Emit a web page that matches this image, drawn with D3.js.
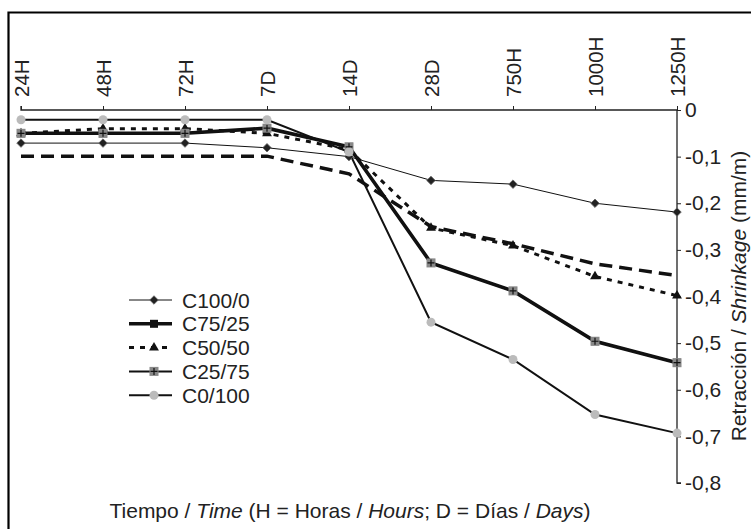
<!DOCTYPE html>
<html><head><meta charset="utf-8">
<script src="https://cdn.jsdelivr.net/npm/d3@7"></script>
<style>body{margin:0;background:#fff}svg{display:block;font-family:"Liberation Sans",Arial,sans-serif}</style>
</head><body><svg id="c" width="751" height="529"></svg>
<script>
const categories = ["24H","48H","72H","7D","14D","28D","750H","1000H","1250H"];
const yTicks = [0,-0.1,-0.2,-0.3,-0.4,-0.5,-0.6,-0.7,-0.8];
const c100_0  = [-0.071,-0.071,-0.071,-0.081,-0.100,-0.151,-0.159,-0.200,-0.219];
const c75_25  = [-0.050,-0.050,-0.050,-0.039,-0.079,-0.328,-0.388,-0.496,-0.542];
const c50_50  = [-0.050,-0.040,-0.040,-0.050,-0.085,-0.253,-0.291,-0.357,-0.398];
const c25_75  = [-0.050,-0.050,-0.050,-0.039,-0.079,-0.328,-0.388,-0.496,-0.542];
const c0_100  = [-0.021,-0.021,-0.021,-0.021,-0.090,-0.455,-0.535,-0.653,-0.693];
const extraDashed = [-0.099,-0.099,-0.099,-0.099,-0.137,-0.250,-0.287,-0.330,-0.355];
const legendNames = ["C100/0","C75/25","C50/50","C25/75","C0/100"];

const svg = d3.select("#c");
const x = d3.scalePoint().domain(categories).range([21,677]);
const y = d3.scaleLinear().domain([0,-0.8]).range([110,483]);
const FS = 21;

// outer frame
svg.append("path").attr("d","M8.5,540V12.5H760").attr("fill","none").attr("stroke","#000").attr("stroke-width",2.2);

// top axis
const gx = svg.append("g").attr("transform","translate(0,110)")
  .call(d3.axisTop(x).tickSize(4).tickPadding(6));
gx.select(".domain").attr("stroke","#222").attr("stroke-width",1.3).attr("d","M21,-4V0H677");
gx.selectAll(".tick line").attr("stroke","#222");
gx.selectAll("text").attr("font-size",20.5).attr("fill","#222")
  .attr("transform","rotate(-90)").attr("text-anchor","start")
  .attr("x",13).attr("y",0).attr("dy","0.36em");

// right axis
const gy = svg.append("g").attr("transform","translate(677,0)")
  .call(d3.axisRight(y).tickValues(yTicks).tickSize(4).tickPadding(4)
    .tickFormat(d => d===0 ? "0" : d3.format(".1f")(d).replace("−","-").replace(".",",")));
gy.select(".domain").attr("stroke","#222").attr("stroke-width",1.3).attr("d","M0,110V483H4");
gy.selectAll(".tick line").attr("stroke","#222");
gy.selectAll("text").attr("font-size",FS).attr("fill","#222");

// right axis label
const yl = svg.append("text").attr("transform","translate(746,296) rotate(-90)")
  .attr("text-anchor","middle").attr("font-size",FS).attr("fill","#222");
yl.append("tspan").text("Retracción / ");
yl.append("tspan").attr("font-style","italic").text("Shrinkage");
yl.append("tspan").text(" (mm/m)");

// bottom title
const xt = svg.append("text").attr("x",350).attr("y",518).attr("text-anchor","middle")
  .attr("font-size",FS).attr("fill","#222");
xt.append("tspan").text("Tiempo / ");
xt.append("tspan").attr("font-style","italic").text("Time");
xt.append("tspan").text(" (H = Horas / ");
xt.append("tspan").attr("font-style","italic").text("Hours");
xt.append("tspan").text("; D = Días / ");
xt.append("tspan").attr("font-style","italic").text("Days");
xt.append("tspan").text(")");

const line = d3.line().x((d,i)=>x(categories[i])).y(d=>y(d));

const series = [
  {name:null, data:extraDashed, w:3.5, dash:"13,7", marker:null},
  {name:"C100/0", data:c100_0, w:1, dash:null, marker:"diamond"},
  {name:"C50/50", data:c50_50, w:3, dash:"5,6", marker:"triangle"},
  {name:"C75/25", data:c75_25, w:3.6, dash:null, marker:"bsquare"},
  {name:"C25/75", data:c25_75, w:2, dash:null, marker:"gsquare"},
  {name:"C0/100", data:c0_100, w:2, dash:null, marker:"circle"}
];

function drawMarker(g, type, cx, cy){
  if(type==="diamond"){
    g.append("rect").attr("x",-3).attr("y",-3).attr("width",6).attr("height",6)
      .attr("transform",`translate(${cx},${cy}) rotate(45)`)
      .attr("fill","#222").attr("stroke","#666").attr("stroke-width",0.8);
  } else if(type==="triangle"){
    g.append("path").attr("d",d3.symbol(d3.symbolTriangle,42)()).attr("transform",`translate(${cx},${cy})`)
      .attr("fill","#111");
  } else if(type==="bsquare"){
    g.append("rect").attr("x",cx-4).attr("y",cy-4).attr("width",8).attr("height",8).attr("fill","#111");
  } else if(type==="gsquare"){
    g.append("rect").attr("x",cx-4.5).attr("y",cy-4.5).attr("width",9).attr("height",9).attr("fill","#888");
    g.append("path").attr("d",`M${cx-3.5},${cy}H${cx+3.5}M${cx},${cy-3.5}V${cy+3.5}`).attr("stroke","#111").attr("stroke-width",1.2);
  } else if(type==="circle"){
    g.append("circle").attr("cx",cx).attr("cy",cy).attr("r",4.5).attr("fill","#bbb");
  }
}

series.forEach(s=>{
  svg.append("path").attr("d",line(s.data)).attr("fill","none").attr("stroke","#111")
    .attr("stroke-width",s.w).attr("stroke-dasharray",s.dash);
});
series.forEach(s=>{
  if(!s.marker) return;
  const g = svg.append("g");
  s.data.forEach((v,i)=>drawMarker(g,s.marker,x(categories[i]),y(v)));
});

// legend
const lg = svg.append("g");
const styleByName = {};
series.forEach(s=>{ if(s.name) styleByName[s.name]=s; });
legendNames.forEach((n,i)=>{
  const s = styleByName[n];
  const yy = 300 + i*23.8;
  lg.append("line").attr("x1",129).attr("x2",172).attr("y1",yy).attr("y2",yy)
    .attr("stroke","#111").attr("stroke-width",s.w).attr("stroke-dasharray",s.dash);
  drawMarker(lg,s.marker,154,yy);
  lg.append("text").attr("x",182).attr("y",yy).attr("dy","0.36em").attr("font-size",FS).attr("fill","#222").text(n);
});
</script></body></html>
